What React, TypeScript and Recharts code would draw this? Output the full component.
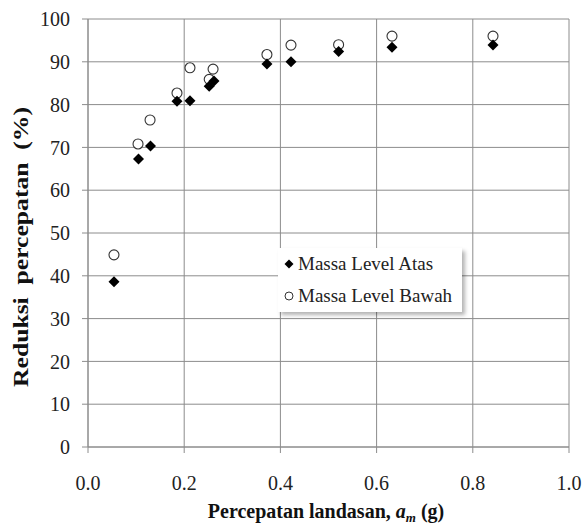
import { ScatterChart, Scatter, XAxis, YAxis, CartesianGrid, Legend } from "recharts";

const FONT = "Liberation Serif";

// Massa Level Atas (filled diamonds)
const atasX = [0.054, 0.105, 0.13, 0.185, 0.212, 0.252, 0.262, 0.372, 0.422, 0.521, 0.632, 0.842];
const atasY = [38.6, 67.3, 70.3, 80.8, 80.9, 84.3, 85.5, 89.5, 90.0, 92.4, 93.4, 93.9];

// Massa Level Bawah (open circles)
const bawahX = [0.054, 0.104, 0.129, 0.185, 0.212, 0.252, 0.26, 0.372, 0.422, 0.521, 0.632, 0.842];
const bawahY = [44.9, 70.8, 76.4, 82.7, 88.6, 85.9, 88.3, 91.7, 93.9, 94.0, 96.0, 96.0];

const xTicks = [0, 0.2, 0.4, 0.6, 0.8, 1.0];
const yTicks = [0, 10, 20, 30, 40, 50, 60, 70, 80, 90, 100];
const seriesNames = ["Massa Level Atas", "Massa Level Bawah"];

const atasData = atasX.map((x, i) => ({ x, y: atasY[i] }));
const bawahData = bawahX.map((x, i) => ({ x, y: bawahY[i] }));

const GRID = "#8c8c8c";

const Diamond = (props: any) => {
  const { cx, cy } = props;
  const r = 5.5;
  return <path d={`M${cx},${cy - r}L${cx + r},${cy}L${cx},${cy + r}L${cx - r},${cy}Z`} fill="#000" />;
};

const Ring = (props: any) => {
  const { cx, cy } = props;
  return <circle cx={cx} cy={cy} r={5} fill="#fff" stroke="#333" strokeWidth={1.1} />;
};

const legendIcon = (i: number) =>
  i === 0 ? (
    <svg width={10} height={10} style={{ display: "block" }}>
      <path d="M5,0.5L9.5,5L5,9.5L0.5,5Z" fill="#000" />
    </svg>
  ) : (
    <svg width={10} height={10} style={{ display: "block" }}>
      <circle cx={5} cy={5} r={4} fill="#fff" stroke="#333" strokeWidth={1} />
    </svg>
  );

const renderLegend = () => (
  <div
    style={{
      background: "#fff",
      boxShadow: "3px 3px 4px rgba(0,0,0,0.3)",
      width: 184,
      height: 64,
      fontFamily: FONT,
      fontSize: 19,
      color: "#222",
    }}
  >
    {seriesNames.map((name, i) => (
      <div key={name} style={{ height: 32, display: "flex", alignItems: "center", paddingLeft: 6 }}>
        {legendIcon(i)}
        <span style={{ marginLeft: 4, whiteSpace: "nowrap", fontFamily: FONT }}>{name}</span>
      </div>
    ))}
  </div>
);

const renderYTitle = () => (
  <text
    x={21}
    y={247}
    transform="rotate(-90 21 247)"
    textAnchor="middle"
    dominantBaseline="central"
    textLength={280}
    lengthAdjust="spacingAndGlyphs"
    fontFamily={FONT}
    fontWeight="bold"
    fontSize={20}
    fill="#111"
  >
    {"Reduksi\u00a0\u00a0percepatan\u00a0\u00a0(%)"}
  </text>
);

const renderXTitle = () => (
  <text x={326} y={518} textAnchor="middle" fontFamily={FONT} fontWeight="bold" fontSize={20} fill="#111">
    {"Percepatan landasan, "}
    <tspan fontStyle="italic">a</tspan>
    <tspan fontStyle="italic" fontSize={13} dy={4}>m</tspan>
    <tspan dy={-4}>{"\u00a0(g)"}</tspan>
  </text>
);

export default function App() {
  const tickStyle = { fontFamily: FONT, fontSize: 20, fill: "#222" };
  return (
    <div style={{ position: "absolute", left: 0, top: 0, background: "#fff", fontFamily: FONT }}>
      <ScatterChart
        width={584}
        height={530}
        margin={{ top: 19, right: 15, bottom: 0, left: 0 }}
        style={{ fontFamily: FONT }}
      >
        <CartesianGrid stroke={GRID} strokeWidth={1} />
        <XAxis
          type="number"
          dataKey="x"
          domain={[0, 1]}
          ticks={xTicks}
          tickFormatter={(v: number) => v.toFixed(1)}
          height={83}
          tickSize={6}
          tickMargin={23}
          stroke={GRID}
          tick={tickStyle}
          tickLine={{ stroke: GRID }}
          label={renderXTitle}
          allowDataOverflow
        />
        <YAxis
          type="number"
          dataKey="y"
          domain={[0, 100]}
          ticks={yTicks}
          width={88}
          tickSize={6}
          tickMargin={12}
          stroke={GRID}
          tick={tickStyle}
          tickLine={{ stroke: GRID }}
          label={renderYTitle}
        />
        <Legend
          content={renderLegend}
          layout="horizontal"
          verticalAlign="middle"
          wrapperStyle={{ left: 278, top: 248, width: 184, height: 64 }}
        />
        <Scatter name={seriesNames[1]} data={bawahData} shape={Ring} isAnimationActive={false} />
        <Scatter name={seriesNames[0]} data={atasData} shape={Diamond} isAnimationActive={false} />
      </ScatterChart>
    </div>
  );
}
